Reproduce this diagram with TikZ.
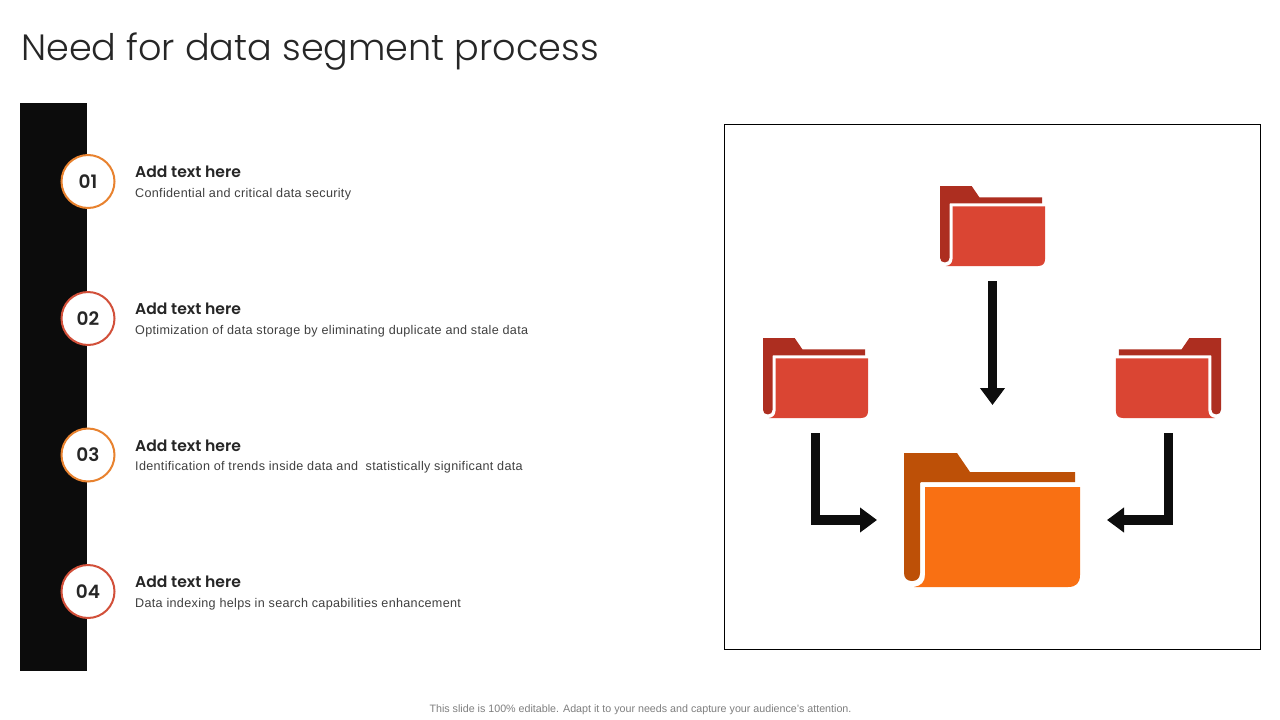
\documentclass[tikz,border=0pt]{standalone}
\usepackage{fontspec}
\usetikzlibrary{arrows.meta}
\setmainfont{Liberation Sans}
\newfontfamily\titlefont{Poppins Light}
\newfontfamily\headfont{Poppins SemiBold}
\newfontfamily\numfont{Poppins SemiBold}
\newfontfamily\bodyfont[LetterSpace=2.5]{Liberation Sans}
\definecolor{barblack}{HTML}{0C0C0C}
\definecolor{ringorange}{HTML}{E8822F}
\definecolor{ringred}{HTML}{D2503A}
\definecolor{redback}{HTML}{AD2E20}
\definecolor{redfront}{HTML}{DA4533}
\definecolor{orangeback}{HTML}{BD5007}
\definecolor{orangefront}{HTML}{F97013}
\definecolor{inktext}{HTML}{262626}
\definecolor{graytext}{HTML}{404040}
\definecolor{foottext}{HTML}{7F7F7F}
\tikzset{
  x=1pt,y=-1pt,
  ring/.style={circle,fill=white,draw=#1,line width=2pt,minimum size=53pt,inner sep=0pt,outer sep=0pt,text=inktext,font=\numfont\fontsize{18.5}{19}\selectfont},
  headtext/.style={anchor=west,inner sep=0pt,text=inktext,font=\headfont\fontsize{15.6}{15}\selectfont},
  bodytext/.style={anchor=west,inner sep=0pt,text=graytext,font=\bodyfont\fontsize{12.6}{12}\selectfont},
  foldersmall/.style={minimum width=105pt,minimum height=80pt,inner sep=0pt,outer sep=0pt,anchor=north west},
  folderbig/.style={minimum width=176pt,minimum height=134pt,inner sep=0pt,outer sep=0pt,anchor=north west},
  flow/.style={line width=9.5pt,black!95,line join=miter,-{Triangle[length=17pt,width=24pt]}},
}
% folder artwork in the big folder's own units; #1 = options of the scope, #2 back, #3 front
\newcommand{\folderart}[3]{%
  \begin{scope}[#1]
    \fill[#2] (0,0) -- (53,0) -- (66,19) -- (171,19) -- (171,29) -- (17,29)
      -- (16,30) -- (16,120)
      .. controls (16,125) and (13,128) .. (8,128)
      .. controls (3,128) and (0,125) .. (0,120) -- cycle;
    \fill[#3] (21,34) -- (176,34) -- (176,122)
      .. controls (176,130) and (172,134) .. (164,134) -- (10,134)
      .. controls (17,133) and (21,129) .. (21,122) -- cycle;
  \end{scope}}
\begin{document}
\begin{tikzpicture}[x=1pt,y=-1pt]
\useasboundingbox (0,0) rectangle (1280,720);
\fill[white] (0,0) rectangle (1280,720);
\node[anchor=west,inner sep=0pt,text=inktext,font=\titlefont\fontsize{36.6}{38}\selectfont] (title) at (21,51.5) {Need for data segment process};
\fill[barblack] (20,103) rectangle (87,671);
\node[ring=ringorange] (n1) at (88,181.5) {01};
\node[ring=ringred] (n2) at (88,318.5) {02};
\node[ring=ringorange] (n3) at (88,455) {03};
\node[ring=ringred] (n4) at (88,591.5) {04};
\node[headtext] (h1) at (135,172) {Add text here};
\node[bodytext] (b1) at (135,194.5) {Confidential and critical data security};
\node[headtext] (h2) at (135,309) {Add text here};
\node[bodytext] (b2) at (135,331.5) {Optimization of data storage by eliminating duplicate and stale data};
\node[headtext] (h3) at (135,446) {Add text here};
\node[bodytext] (b3) at (135,467.5) {Identification of trends inside data and\ \ statistically significant data};
\node[headtext] (h4) at (135,582) {Add text here};
\node[bodytext] (b4) at (135,604.5) {Data indexing helps in search capabilities enhancement};
\draw[black,line width=1pt] (724.5,124.5) rectangle (1260.5,649.5);
\node[foldersmall] (ftop) at (940,186) {};
\node[foldersmall] (fleft) at (763,338) {};
\node[foldersmall] (fright) at (1116,338) {};
\node[folderbig] (fmain) at (904,453) {};
\folderart{shift={(940,186)},scale=0.597}{redback}{redfront}
\folderart{shift={(763,338)},scale=0.597}{redback}{redfront}
\folderart{shift={(1221,338)},xscale=-0.597,yscale=0.597}{redback}{redfront}
\folderart{shift={(904,453)}}{orangeback}{orangefront}
\draw[flow,shorten <=15pt,shorten >=48pt] (ftop.south) -- (ftop.south |- fmain.north);
\draw[flow,shorten <=15pt,shorten >=27pt] (fleft.south) |- (fmain.west);
\draw[flow,shorten <=15pt,shorten >=27pt] (fright.south) |- (fmain.east);
\node[inner sep=0pt,text=foottext,font=\fontsize{10.7}{10}\selectfont] (foot) at (640.5,709.5) {This slide is 100\% editable. Adapt it to your needs and capture your audience's attention.};
\end{tikzpicture}
\end{document}
